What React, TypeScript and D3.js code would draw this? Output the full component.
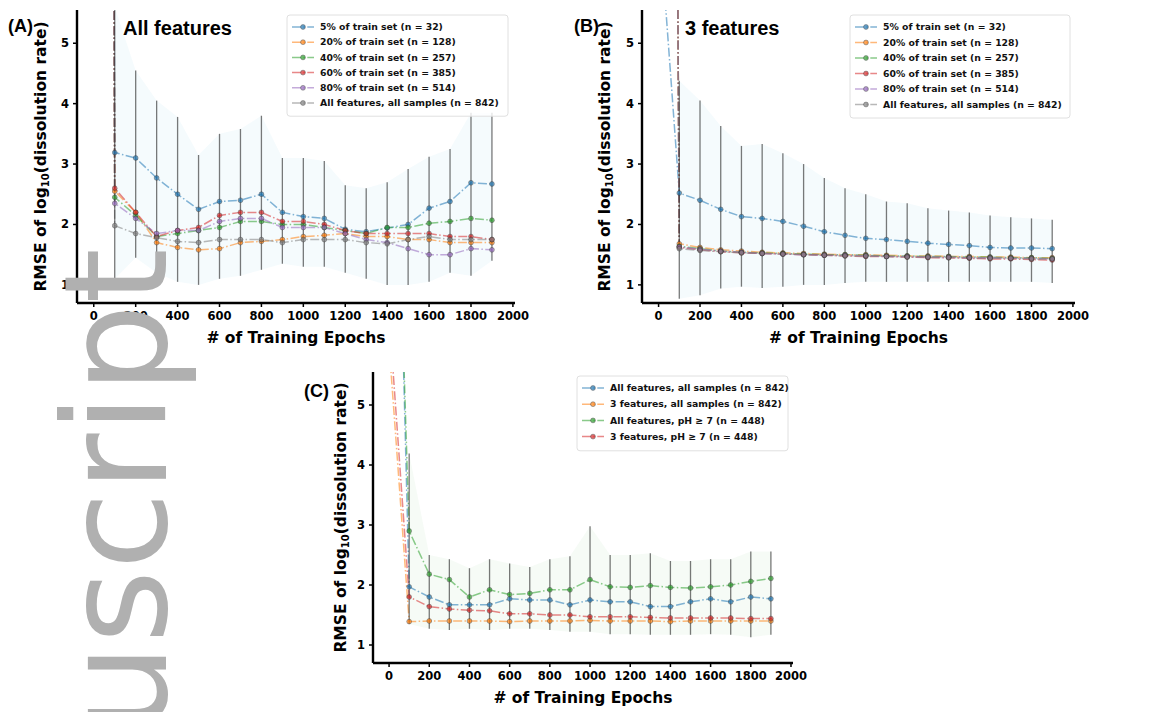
import React from "react";
import * as d3 from "d3";

// epochs on the x axis (first point is the untrained model, far above the plot)
const epochs = [0, 100, 200, 300, 400, 500, 600, 700, 800, 900, 1000, 1100, 1200, 1300, 1400, 1500, 1600, 1700, 1800, 1900];
const xTicks = [0, 200, 400, 600, 800, 1000, 1200, 1400, 1600, 1800, 2000];
const yTicks = [1, 2, 3, 4, 5];

const colors = ["#1f77b4", "#ff7f0e", "#2ca02c", "#d62728", "#9467bd", "#7f7f7f"];

const trainLabels = [
  "5% of train set (n = 32)",
  "20% of train set (n = 128)",
  "40% of train set (n = 257)",
  "60% of train set (n = 385)",
  "80% of train set (n = 514)",
  "All features, all samples (n = 842)",
];
const cLabels = [
  "All features, all samples (n = 842)",
  "3 features, all samples (n = 842)",
  "All features, pH \u2265 7 (n = 448)",
  "3 features, pH \u2265 7 (n = 448)",
];

// (A) all features
const a5 = [100, 3.19, 3.1, 2.77, 2.5, 2.25, 2.38, 2.4, 2.5, 2.2, 2.13, 2.1, 1.92, 1.88, 1.94, 2.0, 2.27, 2.38, 2.69, 2.67];
const a20 = [100, 2.55, 2.2, 1.7, 1.62, 1.58, 1.6, 1.7, 1.72, 1.75, 1.8, 1.82, 1.85, 1.8, 1.8, 1.75, 1.75, 1.7, 1.7, 1.7];
const a40 = [100, 2.45, 2.15, 1.8, 1.85, 1.9, 1.95, 2.05, 2.05, 2.0, 2.0, 1.95, 1.9, 1.85, 1.95, 1.95, 2.02, 2.05, 2.1, 2.07];
const a60 = [100, 2.6, 2.2, 1.8, 1.9, 1.95, 2.15, 2.2, 2.2, 2.05, 2.05, 2.0, 1.9, 1.85, 1.85, 1.85, 1.85, 1.8, 1.8, 1.75];
const a80 = [100, 2.35, 2.1, 1.85, 1.9, 1.9, 2.05, 2.1, 2.1, 1.95, 1.95, 1.95, 1.85, 1.75, 1.7, 1.6, 1.5, 1.5, 1.6, 1.58];
const aAll = [100, 1.98, 1.85, 1.78, 1.72, 1.7, 1.75, 1.75, 1.75, 1.7, 1.75, 1.75, 1.75, 1.7, 1.68, 1.75, 1.8, 1.75, 1.75, 1.75];
const aErrLo = [1.1, 1.45, 1.2, 1.05, 1.0, 1.1, 1.15, 1.25, 1.35, 1.3, 1.3, 1.2, 1.1, 1.0, 1.0, 1.05, 1.2, 1.15, 1.4];
const aErrHi = [5.6, 4.55, 4.05, 3.78, 3.15, 3.5, 3.58, 3.8, 3.1, 3.1, 3.05, 2.65, 2.6, 2.7, 2.92, 3.12, 3.25, 3.85, 3.85];

// (B) 3 features
const b5 = [7.2, 2.52, 2.4, 2.25, 2.13, 2.1, 2.05, 1.97, 1.88, 1.82, 1.77, 1.75, 1.72, 1.69, 1.67, 1.65, 1.62, 1.61, 1.61, 1.6];
const b20 = [60, 1.68, 1.62, 1.58, 1.56, 1.54, 1.53, 1.52, 1.51, 1.5, 1.5, 1.49, 1.48, 1.48, 1.47, 1.47, 1.46, 1.46, 1.45, 1.45];
const b40 = [60, 1.64, 1.6, 1.56, 1.54, 1.53, 1.52, 1.51, 1.5, 1.5, 1.49, 1.48, 1.48, 1.47, 1.47, 1.46, 1.46, 1.45, 1.45, 1.44];
const b60 = [60, 1.62, 1.58, 1.55, 1.53, 1.52, 1.51, 1.5, 1.49, 1.48, 1.47, 1.47, 1.46, 1.45, 1.45, 1.44, 1.43, 1.43, 1.42, 1.41];
const b80 = [60, 1.63, 1.59, 1.56, 1.54, 1.52, 1.51, 1.5, 1.49, 1.49, 1.48, 1.47, 1.47, 1.46, 1.46, 1.45, 1.45, 1.44, 1.44, 1.43];
const bAll = [60, 1.6, 1.57, 1.55, 1.53, 1.52, 1.51, 1.5, 1.49, 1.48, 1.48, 1.47, 1.46, 1.46, 1.45, 1.45, 1.44, 1.44, 1.43, 1.43];
const bErrLo = [0.77, 0.83, 0.94, 0.97, 0.95, 0.97, 1.0, 1.0, 1.03, 1.05, 1.05, 1.05, 1.05, 1.05, 1.05, 1.05, 1.05, 1.05, 1.03];
const bErrHi = [4.38, 4.05, 3.63, 3.3, 3.33, 3.18, 3.0, 2.77, 2.6, 2.5, 2.38, 2.35, 2.27, 2.23, 2.2, 2.15, 2.12, 2.1, 2.08];

// (C) feature / pH comparison
const cAll = [15, 1.97, 1.8, 1.67, 1.67, 1.67, 1.77, 1.75, 1.75, 1.67, 1.75, 1.72, 1.72, 1.64, 1.64, 1.72, 1.77, 1.72, 1.8, 1.77];
const c3All = [6.0, 1.39, 1.4, 1.4, 1.4, 1.4, 1.39, 1.4, 1.4, 1.4, 1.41, 1.4, 1.4, 1.4, 1.39, 1.4, 1.4, 1.4, 1.4, 1.4];
const cAllPh = [13.5, 2.9, 2.18, 2.09, 1.8, 1.92, 1.84, 1.86, 1.92, 1.92, 2.09, 1.97, 1.96, 1.99, 1.96, 1.95, 1.97, 2.0, 2.06, 2.11];
const c3Ph = [6.5, 1.8, 1.64, 1.6, 1.58, 1.57, 1.52, 1.52, 1.5, 1.5, 1.47, 1.47, 1.47, 1.46, 1.45, 1.45, 1.45, 1.45, 1.44, 1.44];
const cErrLo = [1.35, 1.27, 1.25, 1.27, 1.25, 1.27, 1.27, 1.25, 1.22, 1.22, 1.18, 1.18, 1.17, 1.17, 1.17, 1.18, 1.17, 1.13, 1.17];
const cErrHi = [4.19, 2.5, 2.43, 2.28, 2.43, 2.36, 2.3, 2.43, 2.48, 2.98, 2.5, 2.5, 2.53, 2.4, 2.4, 2.43, 2.43, 2.56, 2.56];

const dashDot = "9,2.4,1.5,2.4";
const font = "DejaVu Sans, sans-serif";

type Series = { label: string; color: string; values: number[] };

type PanelProps = {
  id: string;
  x0: number;
  x1: number;
  top: number;
  bottom: number;
  series: Series[];
  errLo: number[];
  errHi: number[];
  bandColor: string;
  tag: string;
  tagX: number;
  tagY: number;
  title?: string;
  titleX?: number;
  yLabelX: number;
  legend: { x: number; y: number; w: number; row: number };
};

function Panel(p: PanelProps) {
  const x = d3.scaleLinear().domain([-80, 2010]).range([p.x0, p.x1]);
  const y = d3.scaleLinear().domain([0.7, 5.55]).range([p.bottom, p.top]);
  const line = d3
    .line<number>()
    .x((_, i) => x(epochs[i]))
    .y((d) => y(d));
  const barEpochs = epochs.slice(1);
  const band = d3
    .area<number>()
    .x((_, i) => x(barEpochs[i]))
    .y0((d) => y(d))
    .y1((_, i) => y(p.errHi[i]));
  const lg = p.legend;
  const yMid = (p.top + p.bottom) / 2;

  return (
    <g>
      <defs>
        <clipPath id={p.id}>
          <rect x={p.x0} y={p.top} width={p.x1 - p.x0} height={p.bottom - p.top} />
        </clipPath>
      </defs>
      <g clipPath={`url(#${p.id})`}>
        <path d={band(p.errLo) || ""} fill={p.bandColor} opacity={0.045} />
        {p.series.map((s) => (
          <path key={s.label} d={line(s.values) || ""} fill="none" stroke={s.color}
            strokeWidth={1.5} strokeDasharray={dashDot} opacity={0.55} />
        ))}
        {barEpochs.map((e, i) => (
          <line key={e} x1={x(e)} x2={x(e)} y1={y(p.errLo[i])} y2={y(p.errHi[i])}
            stroke="#222" strokeWidth={1.3} opacity={0.6} />
        ))}
        {p.series.map((s) =>
          s.values.slice(1).map((v, i) => (
            <circle key={s.label + i} cx={x(barEpochs[i])} cy={y(v)} r={2.4}
              fill={s.color} stroke="#333" strokeWidth={0.6} opacity={0.7} />
          ))
        )}
      </g>

      {/* axes */}
      <line x1={p.x0} x2={p.x1} y1={p.bottom} y2={p.bottom} stroke="#000" strokeWidth={2.4} />
      <line x1={p.x0} x2={p.x0} y1={p.top} y2={p.bottom} stroke="#000" strokeWidth={2.4} />
      {xTicks.map((t) => (
        <g key={t}>
          <line x1={x(t)} x2={x(t)} y1={p.bottom} y2={p.bottom + 4} stroke="#000" strokeWidth={1.5} />
          <text x={x(t)} y={p.bottom + 17} textAnchor="middle" fontFamily={font}
            fontWeight="bold" fontSize={11.5}>{t}</text>
        </g>
      ))}
      {yTicks.map((t) => (
        <g key={t}>
          <line x1={p.x0 - 4} x2={p.x0} y1={y(t)} y2={y(t)} stroke="#000" strokeWidth={1.5} />
          <text x={p.x0 - 8} y={y(t)} dy="0.35em" textAnchor="end" fontFamily={font}
            fontWeight="bold" fontSize={11.5}>{t}</text>
        </g>
      ))}
      <text x={(p.x0 + p.x1) / 2} y={p.bottom + 40} textAnchor="middle" fontFamily={font}
        fontWeight="bold" fontSize={15.5}># of Training Epochs</text>
      <text transform={`translate(${p.yLabelX},${yMid}) rotate(-90)`} textAnchor="middle"
        fontFamily={font} fontWeight="bold" fontSize={15.5}>
        RMSE of log<tspan fontSize={10} dy={3}>10</tspan>
        <tspan dy={-3}>(dissolution rate)</tspan>
      </text>

      <text x={p.tagX} y={p.tagY} fontFamily="Liberation Sans, Arial, sans-serif" fontWeight="bold"
        fontSize={18}>{p.tag}</text>
      {p.title && (
        <text x={p.titleX} y={p.tagY + 3} fontFamily="Liberation Sans, Arial, sans-serif"
          fontWeight="bold" fontSize={20}>{p.title}</text>
      )}

      {/* legend */}
      <rect x={lg.x} y={lg.y} width={lg.w} height={p.series.length * lg.row + 10} rx={3}
        fill="#fff" fillOpacity={0.8} stroke="#e0e0e0" strokeWidth={1} />
      {p.series.map((s, i) => {
        const cy = lg.y + 12 + i * lg.row;
        return (
          <g key={s.label}>
            <line x1={lg.x + 5} x2={lg.x + 27} y1={cy} y2={cy} stroke={s.color}
              strokeWidth={1.5} strokeDasharray={dashDot} opacity={0.55} />
            <circle cx={lg.x + 16} cy={cy} r={2.4} fill={s.color} stroke="#333"
              strokeWidth={0.6} opacity={0.7} />
            <text x={lg.x + 33} y={cy} dy="0.35em" fontFamily={font} fontWeight="bold"
              fontSize={9.3} fill="#111">{s.label}</text>
          </g>
        );
      })}
    </g>
  );
}

export default function App() {
  const seriesA: Series[] = [a5, a20, a40, a60, a80, aAll].map((v, i) => ({
    label: trainLabels[i], color: colors[i], values: v,
  }));
  const seriesB: Series[] = [b5, b20, b40, b60, b80, bAll].map((v, i) => ({
    label: trainLabels[i], color: colors[i], values: v,
  }));
  const seriesC: Series[] = [cAll, c3All, cAllPh, c3Ph].map((v, i) => ({
    label: cLabels[i], color: colors[i], values: v,
  }));

  return (
    <svg width={1157} height={712} style={{ position: "absolute", left: 0, top: 0, background: "#fff" }}>
      <Panel id="clipA" x0={77} x1={515} top={10} bottom={303} series={seriesA}
        errLo={aErrLo} errHi={aErrHi} bandColor="#1f9fd4" tag="(A)" tagX={8} tagY={32}
        title="All features" titleX={123} yLabelX={46}
        legend={{ x: 287, y: 15, w: 221, row: 15.2 }} />
      <Panel id="clipB" x0={642} x1={1075} top={10} bottom={303} series={seriesB}
        errLo={bErrLo} errHi={bErrHi} bandColor="#1f9fd4" tag="(B)" tagX={574} tagY={32}
        title="3 features" titleX={685} yLabelX={610}
        legend={{ x: 850, y: 15, w: 220, row: 15.5 }} />
      <Panel id="clipC" x0={373} x1={793} top={372} bottom={663} series={seriesC}
        errLo={cErrLo} errHi={cErrHi} bandColor="#2ca02c" tag="(C)" tagX={304} tagY={397}
        yLabelX={346} legend={{ x: 577, y: 376, w: 211, row: 16.2 }} />

      {/* watermark */}
      <text transform="translate(166,248) rotate(-90)" textAnchor="end" fontFamily={font}
        fontSize={142} fill="#b0b0b0">Manuscript</text>
    </svg>
  );
}
